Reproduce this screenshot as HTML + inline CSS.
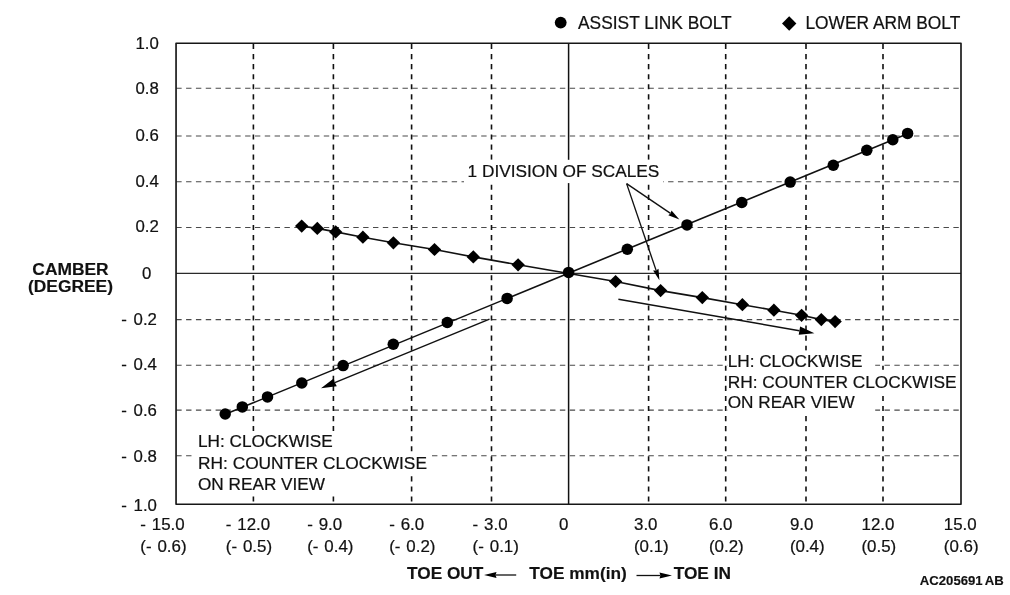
<!DOCTYPE html>
<html lang="en"><head><meta charset="utf-8"><title>Camber / Toe adjustment chart</title>
<style>
html,body{margin:0;padding:0;background:#fff;}
body{width:1010px;height:595px;overflow:hidden;}
svg{display:block;}
text{font-family:"Liberation Sans",Arial,Helvetica,sans-serif;fill:#111;stroke:#111;stroke-width:0.22px;}
.b{font-weight:bold;stroke-width:0.15px;}
</style></head><body>
<svg width="1010" height="595" viewBox="0 0 1010 595">
<rect x="0" y="0" width="1010" height="595" fill="#fff"/>

<g stroke="#4a4a4a" stroke-width="1.12" stroke-dasharray="5.4 4.437" fill="none">
<line x1="176.25" y1="88.3" x2="961.0" y2="88.3"/>
<line x1="176.25" y1="136.0" x2="961.0" y2="136.0"/>
<line x1="176.25" y1="181.79999999999998" x2="961.0" y2="181.79999999999998"/>
<line x1="176.25" y1="227.5" x2="961.0" y2="227.5"/>
<line x1="176.25" y1="319.6" x2="961.0" y2="319.6"/>
<line x1="176.25" y1="365.3" x2="961.0" y2="365.3"/>
<line x1="176.25" y1="410.1" x2="961.0" y2="410.1"/>
<line x1="176.25" y1="455.8" x2="961.0" y2="455.8"/>
</g>
<g stroke="#111" stroke-width="1.6" stroke-dasharray="5.1 4.955" fill="none">
<line x1="253.4" y1="44.0" x2="253.4" y2="504.2"/>
<line x1="333.4" y1="44.0" x2="333.4" y2="504.2"/>
<line x1="411.6" y1="44.0" x2="411.6" y2="504.2"/>
<line x1="491.5" y1="44.0" x2="491.5" y2="504.2"/>
<line x1="648.6" y1="44.0" x2="648.6" y2="504.2"/>
<line x1="725.7" y1="44.0" x2="725.7" y2="504.2"/>
<line x1="806.0" y1="44.0" x2="806.0" y2="504.2"/>
<line x1="883.0" y1="44.0" x2="883.0" y2="504.2"/>
</g>
<line x1="176.05" y1="273.34999999999997" x2="961.0" y2="273.34999999999997" stroke="#2a2a2a" stroke-width="1.1"/>
<line x1="568.6" y1="43.2" x2="568.6" y2="504.2" stroke="#111" stroke-width="1.5"/>
<g fill="#fff">
<rect x="464" y="159.8" width="199" height="23.3"/>
<rect x="727.3" y="350.5" width="147.9" height="20"/><rect x="727.3" y="369.8" width="230.7" height="21.8"/><rect x="727.3" y="391" width="147.9" height="21.8"/>
<rect x="193" y="431" width="147" height="24.5"/><rect x="193" y="454.8" width="238" height="18"/><rect x="193" y="472" width="147" height="24"/>
</g>
<rect x="176.05" y="43.2" width="784.95" height="461.0" fill="none" stroke="#161616" stroke-width="1.65" stroke-linejoin="round"/>
<line x1="225.2" y1="414.35" x2="907.6" y2="133.75" stroke="#111" stroke-width="1.6"/>
 <polyline fill="none" stroke="#111" stroke-width="1.6" points="301.7,226.1 317.3,228.4 335.7,231.9 362.9,237.2 393.4,242.8 434.5,249.5 473.3,256.9 518.1,264.8 615.6,281.5 660.6,290.6 702.3,297.6 742.4,304.7 773.9,310.2 801.6,315.3 821.3,319.6 835.1,321.6"/>
<g fill="#000">
<circle cx="225.2" cy="414.0" r="5.75"/>
<circle cx="242.3" cy="406.9" r="5.75"/>
<circle cx="267.5" cy="396.9" r="5.75"/>
<circle cx="301.8" cy="383.0" r="5.75"/>
<circle cx="343.1" cy="365.6" r="5.75"/>
<circle cx="393.3" cy="344.2" r="5.75"/>
<circle cx="447.3" cy="322.5" r="5.75"/>
<circle cx="507.1" cy="298.4" r="5.75"/>
<circle cx="568.6" cy="272.4" r="5.75"/>
<circle cx="627.3" cy="249.2" r="5.75"/>
<circle cx="687.0" cy="224.9" r="5.75"/>
<circle cx="741.8" cy="202.5" r="5.75"/>
<circle cx="790.2" cy="182.1" r="5.75"/>
<circle cx="833.3" cy="165.2" r="5.75"/>
<circle cx="866.8" cy="150.3" r="5.75"/>
<circle cx="892.8" cy="139.7" r="5.75"/>
<circle cx="907.6" cy="133.4" r="5.75"/>
<path d="M295.0,226.1 L301.7,219.5 L308.4,226.1 L301.7,232.7Z"/>
<path d="M310.6,228.4 L317.3,221.8 L324.0,228.4 L317.3,235.0Z"/>
<path d="M329.0,231.9 L335.7,225.3 L342.4,231.9 L335.7,238.5Z"/>
<path d="M356.2,237.2 L362.9,230.6 L369.6,237.2 L362.9,243.8Z"/>
<path d="M386.7,242.8 L393.4,236.2 L400.1,242.8 L393.4,249.4Z"/>
<path d="M427.8,249.5 L434.5,242.9 L441.2,249.5 L434.5,256.1Z"/>
<path d="M466.6,256.9 L473.3,250.3 L480.0,256.9 L473.3,263.5Z"/>
<path d="M511.4,264.8 L518.1,258.2 L524.8,264.8 L518.1,271.4Z"/>
<path d="M608.9,281.5 L615.6,274.9 L622.3,281.5 L615.6,288.1Z"/>
<path d="M653.9,290.6 L660.6,284.0 L667.3,290.6 L660.6,297.2Z"/>
<path d="M695.6,297.6 L702.3,291.0 L709.0,297.6 L702.3,304.2Z"/>
<path d="M735.7,304.7 L742.4,298.1 L749.1,304.7 L742.4,311.3Z"/>
<path d="M767.2,310.2 L773.9,303.6 L780.6,310.2 L773.9,316.8Z"/>
<path d="M794.9,315.3 L801.6,308.7 L808.3,315.3 L801.6,321.9Z"/>
<path d="M814.6,319.6 L821.3,313.0 L828.0,319.6 L821.3,326.2Z"/>
<path d="M828.4,321.6 L835.1,315.0 L841.8,321.6 L835.1,328.2Z"/>
</g>
<line x1="489.5" y1="319.2" x2="334.8" y2="382.6" stroke="#111" stroke-width="1.45"/><path d="M321.0,388.3 L333.7,378.6 L334.8,382.6 L336.8,386.3Z" fill="#000"/>
<line x1="618.4" y1="299.2" x2="799.4" y2="330.7" stroke="#111" stroke-width="1.45"/><path d="M814.4,333.3 L798.7,334.8 L799.4,330.7 L800.1,326.6Z" fill="#000"/>
<line x1="626.6" y1="183.6" x2="670.5" y2="213.4" stroke="#111" stroke-width="1.35"/><path d="M679.4,219.4 L668.3,215.3 L670.5,213.4 L671.5,210.5Z" fill="#000"/>
<line x1="626.6" y1="183.6" x2="656.1" y2="270.4" stroke="#111" stroke-width="1.35"/><path d="M659.4,280.3 L653.1,270.6 L656.1,270.4 L658.5,268.8Z" fill="#000"/>
<line x1="516.2" y1="575.0" x2="495.6" y2="575.0" stroke="#111" stroke-width="1.3"/><path d="M484.0,575.0 L496.5,572.0 L495.6,575.0 L496.5,578.0Z" fill="#000"/>
<line x1="636.5" y1="575.5" x2="660.4" y2="575.5" stroke="#111" stroke-width="1.3"/><path d="M672.0,575.5 L659.5,578.5 L660.4,575.5 L659.5,572.5Z" fill="#000"/>
<circle cx="560.7" cy="22.6" r="5.9" fill="#000"/>
<path d="M782,23.5 L789.2,16.3 L796.4,23.5 L789.2,30.7Z" fill="#000"/>
<text x="578.0" y="29.1" font-size="18" textLength="153.7" lengthAdjust="spacingAndGlyphs">ASSIST LINK BOLT</text>
<text x="805.4" y="29.1" font-size="18" textLength="154.9" lengthAdjust="spacingAndGlyphs">LOWER ARM BOLT</text>
<text x="158.8" y="48.7" font-size="16.8" text-anchor="end">1.0</text>
<text x="158.8" y="94.4" font-size="16.8" text-anchor="end">0.8</text>
<text x="158.8" y="141.2" font-size="16.8" text-anchor="end">0.6</text>
<text x="158.8" y="187.0" font-size="16.8" text-anchor="end">0.4</text>
<text x="158.8" y="231.9" font-size="16.8" text-anchor="end">0.2</text>
<text x="151.4" y="278.8" font-size="16.8" text-anchor="end">0</text>
<text x="156.9" y="324.7" font-size="16.8" text-anchor="end" word-spacing="2">- 0.2</text>
<text x="156.9" y="370.4" font-size="16.8" text-anchor="end" word-spacing="2">- 0.4</text>
<text x="156.9" y="415.9" font-size="16.8" text-anchor="end" word-spacing="2">- 0.6</text>
<text x="156.9" y="462.1" font-size="16.8" text-anchor="end" word-spacing="2">- 0.8</text>
<text x="156.9" y="510.7" font-size="16.8" text-anchor="end" word-spacing="2">- 1.0</text>
<text x="140.3" y="530" font-size="16.9" word-spacing="1.2">- 15.0</text>
<text x="140.3" y="551.7" font-size="16.9" word-spacing="1.2">(- 0.6)</text>
<text x="225.8" y="530" font-size="16.9" word-spacing="1.2">- 12.0</text>
<text x="225.8" y="551.7" font-size="16.9" word-spacing="1.2">(- 0.5)</text>
<text x="307.2" y="530" font-size="16.9" word-spacing="1.2">- 9.0</text>
<text x="307.2" y="551.7" font-size="16.9" word-spacing="1.2">(- 0.4)</text>
<text x="389.2" y="530" font-size="16.9" word-spacing="1.2">- 6.0</text>
<text x="389.2" y="551.7" font-size="16.9" word-spacing="1.2">(- 0.2)</text>
<text x="472.6" y="530" font-size="16.9" word-spacing="1.2">- 3.0</text>
<text x="472.6" y="551.7" font-size="16.9" word-spacing="1.2">(- 0.1)</text>
<text x="559.1" y="530" font-size="16.9">0</text>
<text x="634.0" y="530" font-size="16.9">3.0</text>
<text x="634.0" y="551.7" font-size="16.9">(0.1)</text>
<text x="709.0" y="530" font-size="16.9">6.0</text>
<text x="709.0" y="551.7" font-size="16.9">(0.2)</text>
<text x="789.9" y="530" font-size="16.9">9.0</text>
<text x="789.9" y="551.7" font-size="16.9">(0.4)</text>
<text x="861.5" y="530" font-size="16.9">12.0</text>
<text x="861.5" y="551.7" font-size="16.9">(0.5)</text>
<text x="943.8" y="530" font-size="16.9">15.0</text>
<text x="943.8" y="551.7" font-size="16.9">(0.6)</text>
<text x="70.5" y="274.7" font-size="17.4" class="b" text-anchor="middle">CAMBER</text>
<text x="70.5" y="292.0" font-size="17.4" class="b" text-anchor="middle">(DEGREE)</text>
<text x="467.6" y="177" font-size="17.25">1 DIVISION OF SCALES</text>
<text x="727.7" y="366.5" font-size="17.2">LH: CLOCKWISE</text>
<text x="727.7" y="387.6" font-size="17.32">RH: COUNTER CLOCKWISE</text>
<text x="727.7" y="408.4" font-size="17.2">ON REAR VIEW</text>
<text x="198.0" y="447.4" font-size="17.2">LH: CLOCKWISE</text>
<text x="198.0" y="468.5" font-size="17.32">RH: COUNTER CLOCKWISE</text>
<text x="198.0" y="489.5" font-size="17.2">ON REAR VIEW</text>
<text x="407.0" y="579.4" font-size="17.25" class="b">TOE OUT</text>
<text x="529.3" y="579.4" font-size="17.25" class="b">TOE mm(in)</text>
<text x="673.7" y="579.4" font-size="17.3" class="b">TOE IN</text>
<text x="919.8" y="584.8" font-size="13.15" class="b">AC205691</text>
<text x="984.7" y="584.8" font-size="13.15" class="b">AB</text>
</svg></body></html>
